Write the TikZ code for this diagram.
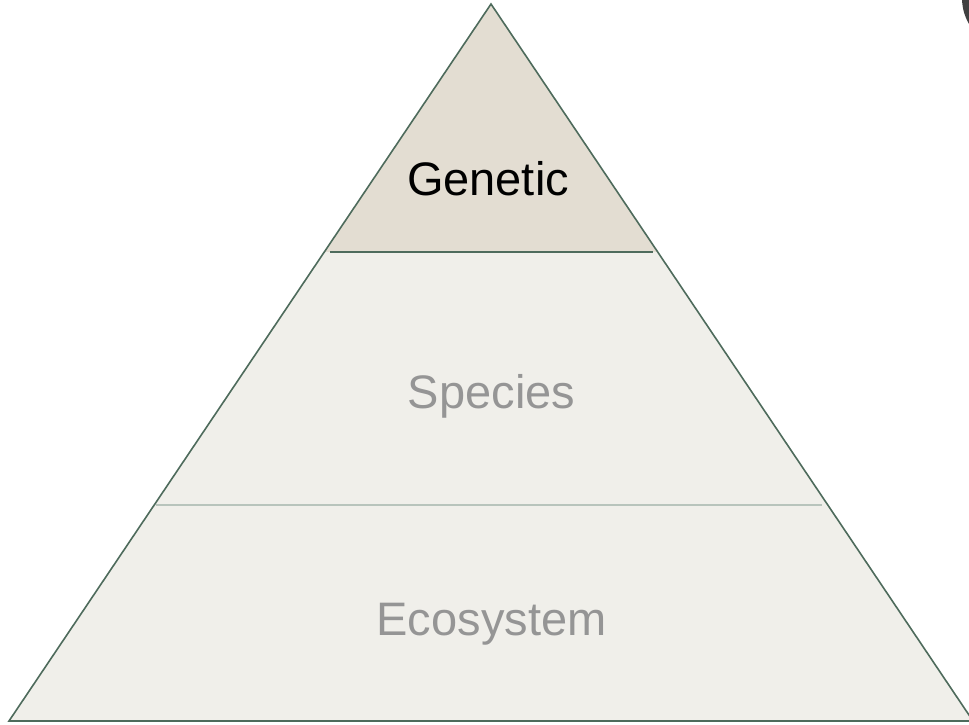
\documentclass[tikz,border=0pt]{standalone}
\usepackage{fontspec}
\setmainfont{Liberation Sans}
\definecolor{edgegreen}{HTML}{4E6B5C}
\definecolor{topfill}{HTML}{E3DDD2}
\definecolor{lowfill}{HTML}{F0EFEA}
\definecolor{lightline}{HTML}{B8C4BC}
\definecolor{labelgray}{HTML}{959595}
\definecolor{darkmark}{HTML}{404040}
\tikzset{
  lbl/.style={anchor=base, inner sep=0pt, font=\fontsize{35.25}{40}\selectfont},
}
\begin{document}
\begin{tikzpicture}[x=0.75pt, y=-0.75pt]
\useasboundingbox (0,0) rectangle (969,724);
\clip (0,0) rectangle (969,724);
% fills
\fill[topfill] (491,4) -- (324.4,252) -- (657.6,252) -- cycle;
\fill[lowfill] (324.4,252) -- (9,721) -- (973,721) -- (657.6,252) -- cycle;
% dividers
\draw[edgegreen, line width=1.6pt] (330,252) -- (653,252);
\draw[lightline, line width=1.8pt] (156,505) -- (822,505);
% outline
\draw[edgegreen, line width=1.2pt, line join=miter] (491,4) -- (9,721) -- (973,721) -- cycle;
% labels
\node[lbl, text=black] (genetic) at (488,195) {Genetic};
\node[lbl, text=labelgray] (species) at (491.5,408) {Species};
\node[lbl, text=labelgray] (ecosystem) at (491.5,635) {Ecosystem};
% partial mark at top-right
\fill[darkmark] (962,0) .. controls (962.5,9) and (964.5,16) .. (969,24) -- (975,24) -- (975,0) -- cycle;
\end{tikzpicture}
\end{document}
